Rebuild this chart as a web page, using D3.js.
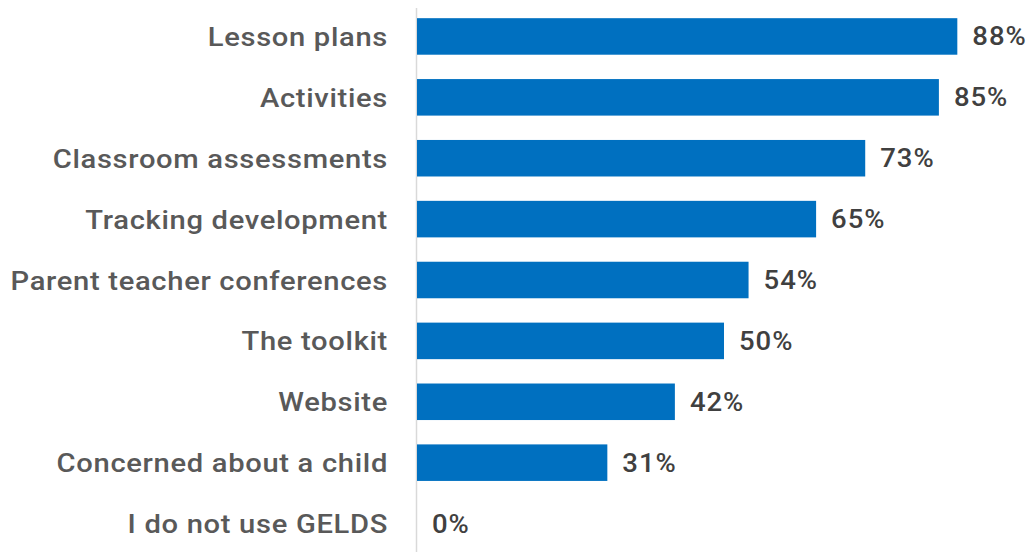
<!DOCTYPE html>
<html>
<head>
<meta charset="utf-8">
<script src="https://cdn.jsdelivr.net/npm/d3@7"></script>
<style>
  html, body { margin: 0; padding: 0; background: #fff; }
  svg { display: block; }
</style>
</head>
<body>
<svg id="chart" width="1031" height="552"></svg>
<script>
// Ways respondents use GELDS (share of respondents)
const categories = [
  "Lesson plans",
  "Activities",
  "Classroom assessments",
  "Tracking development",
  "Parent teacher conferences",
  "The toolkit",
  "Website",
  "Concerned about a child",
  "I do not use GELDS"
];
const values = [0.88, 0.85, 0.73, 0.65, 0.54, 0.50, 0.42, 0.31, 0.00];

const width = 1031, height = 552;
const margin = { top: 6, right: 0, bottom: 0, left: 417 };
const font = "Roboto, 'Noto Sans', sans-serif";
const stretch = 1.1;   // wide set for the label face

const svg = d3.select("#chart");

const x = d3.scaleLinear()
  .domain([0, 1])
  .range([margin.left, width - margin.right]);

const y = d3.scaleBand()
  .domain(categories)
  .range([margin.top, height + 2])
  .paddingInner(0.4)
  .paddingOuter(0.2);

// category axis (left)
const yAxis = d3.axisLeft(y).tickSize(0).tickPadding(0);
const gy = svg.append("g")
  .attr("transform", `translate(${margin.left - 1},0)`)
  .call(yAxis);
gy.select(".domain")
  .attr("stroke", "#d9d9d9")
  .attr("stroke-width", 1.5)
  .attr("d", `M0.5,8V${height}`);
gy.selectAll(".tick text")
  .attr("x", -28 / stretch)
  .attr("transform", `scale(${stretch},1)`)
  .attr("fill", "#595959")
  .attr("font-family", font)
  .attr("font-weight", 500)
  .attr("font-size", 26.5)
  .attr("letter-spacing", 0.62)
  .attr("dy", "0.36em");

// bars
svg.append("g")
  .selectAll("rect")
  .data(categories)
  .join("rect")
  .attr("x", x(0))
  .attr("y", d => y(d))
  .attr("width", (d, i) => x(values[i]) - x(0))
  .attr("height", y.bandwidth())
  .attr("fill", "#0070c0");

// value labels
svg.append("g")
  .selectAll("text")
  .data(categories)
  .join("text")
  .attr("transform", (d, i) =>
    `translate(${x(values[i]) + 15},${y(d) + y.bandwidth() / 2}) scale(${stretch},1)`)
  .attr("dy", "0.36em")
  .attr("fill", "#404040")
  .attr("font-family", font)
  .attr("font-weight", 500)
  .attr("font-size", 25)
  .attr("letter-spacing", 0.9)
  .text((d, i) => d3.format(".0%")(values[i]));
</script>
</body>
</html>
